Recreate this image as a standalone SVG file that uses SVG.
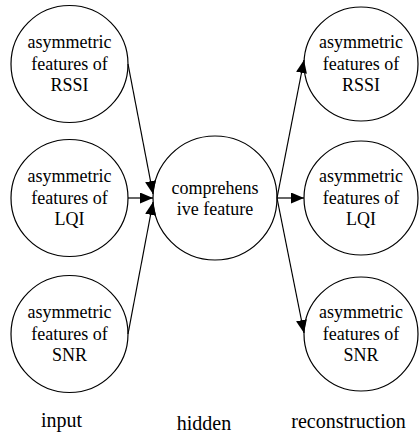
<svg xmlns="http://www.w3.org/2000/svg" width="419" height="445" viewBox="0 0 419 445">
  <style>
    .node circle { fill: #ffffff; stroke: #000000; stroke-width: 1.2; }
    text { font-family: "Liberation Serif", "Times New Roman", serif; font-size: 18px; fill: #000000; text-anchor: middle; }
    .caption { font-size: 20px; }
    .edges line { stroke: #000000; stroke-width: 1.2; }
  </style>
  <defs>
    <marker id="arrow" viewBox="0 0 13 11" refX="13" refY="5.5" markerWidth="13" markerHeight="11" markerUnits="userSpaceOnUse" orient="auto">
      <path d="M0,0 L13,5.5 L0,11 Z" fill="#000000"/>
    </marker>
  </defs>
  <rect width="419" height="445" fill="#ffffff"/>

  <!-- input layer -->
  <g id="in-rssi" class="node">
    <circle cx="69.5" cy="64" r="58.5"/>
    <text x="69.5" y="48">asymmetric</text>
    <text x="69.5" y="69.5">features of</text>
    <text x="69.5" y="91">RSSI</text>
  </g>
  <g id="in-lqi" class="node">
    <circle cx="69.5" cy="198" r="58.5"/>
    <text x="69.5" y="182">asymmetric</text>
    <text x="69.5" y="203.5">features of</text>
    <text x="69.5" y="225">LQI</text>
  </g>
  <g id="in-snr" class="node">
    <circle cx="69.5" cy="334" r="58.5"/>
    <text x="69.5" y="318">asymmetric</text>
    <text x="69.5" y="339.5">features of</text>
    <text x="69.5" y="361">SNR</text>
  </g>

  <!-- hidden layer -->
  <g id="hidden" class="node">
    <circle cx="215" cy="198" r="62"/>
    <text x="215" y="194">comprehens</text>
    <text x="215" y="215">ive feature</text>
  </g>

  <!-- reconstruction layer -->
  <g id="out-rssi" class="node">
    <circle cx="361" cy="64" r="57"/>
    <text x="361" y="48">asymmetric</text>
    <text x="361" y="69.5">features of</text>
    <text x="361" y="91">RSSI</text>
  </g>
  <g id="out-lqi" class="node">
    <circle cx="361" cy="198" r="57"/>
    <text x="361" y="182">asymmetric</text>
    <text x="361" y="203.5">features of</text>
    <text x="361" y="225">LQI</text>
  </g>
  <g id="out-snr" class="node">
    <circle cx="361" cy="334" r="57"/>
    <text x="361" y="318">asymmetric</text>
    <text x="361" y="339.5">features of</text>
    <text x="361" y="361">SNR</text>
  </g>

  <!-- connectors -->
  <g id="edges" class="edges">
    <line x1="128" y1="64" x2="153" y2="194" marker-end="url(#arrow)"/>
    <line x1="128" y1="198" x2="153" y2="198" marker-end="url(#arrow)"/>
    <line x1="128" y1="334" x2="153" y2="202" marker-end="url(#arrow)"/>
    <line x1="277" y1="198" x2="304" y2="60" marker-end="url(#arrow)"/>
    <line x1="277" y1="198" x2="304" y2="198" marker-end="url(#arrow)"/>
    <line x1="277" y1="198" x2="304" y2="333" marker-end="url(#arrow)"/>
  </g>

  <!-- layer captions -->
  <g id="captions">
    <text class="caption" x="61.5" y="427">input</text>
    <text class="caption" x="204" y="430">hidden</text>
    <text class="caption" x="348.5" y="428">reconstruction</text>
  </g>
</svg>
